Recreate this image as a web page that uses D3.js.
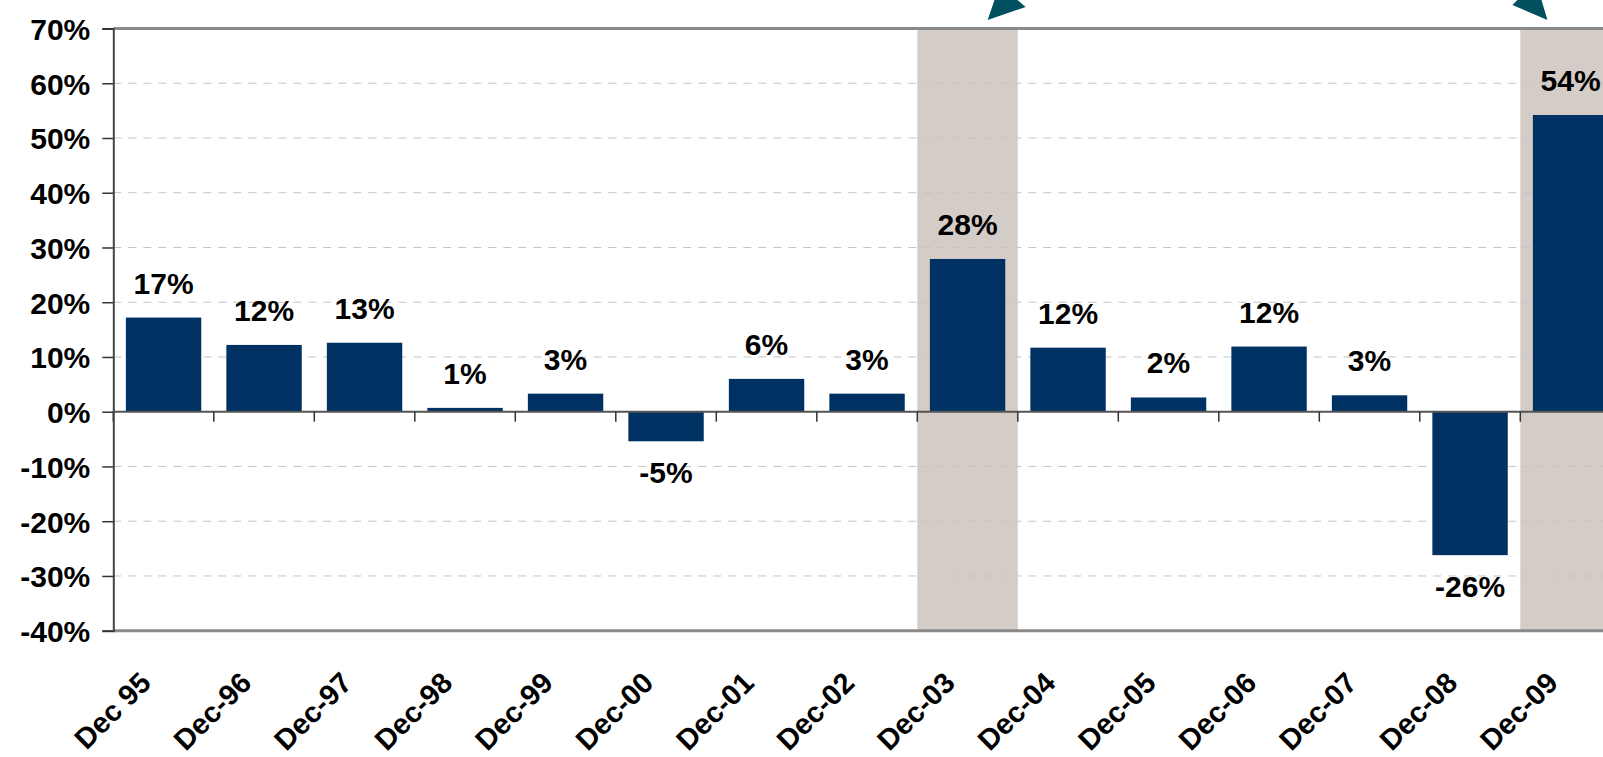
<!DOCTYPE html>
<html>
<head>
<meta charset="utf-8">
<script src="https://d3js.org/d3.v7.min.js"></script>
<style>
  body { margin: 0; background: #fff; }
  svg { display: block; overflow: hidden; }
  text { font-family: "Liberation Sans", Arial, sans-serif; font-weight: bold; fill: #000; }
</style>
</head>
<body>
<div id="chart"></div>
<script>
// data
var categories = ["Dec 95", "Dec-96", "Dec-97", "Dec-98", "Dec-99", "Dec-00", "Dec-01", "Dec-02",
                  "Dec-03", "Dec-04", "Dec-05", "Dec-06", "Dec-07", "Dec-08", "Dec-09"];
var values = [17.2, 12.2, 12.6, 0.7, 3.3, -5.4, 6.0, 3.3, 27.9, 11.7, 2.6, 11.9, 3.0, -26.2, 54.2];
var valueLabels = ["17%", "12%", "13%", "1%", "3%", "-5%", "6%", "3%", "28%", "12%", "2%", "12%", "3%", "-26%", "54%"];
var highlighted = ["Dec-03", "Dec-09"];
var yTicks = [-40, -30, -20, -10, 0, 10, 20, 30, 40, 50, 60, 70];

var svgW = 1603, svgH = 757;
var plotLeft = 113.3, plotTop = 28.5, plotBottom = 630.7;
var step = 100.5;
var plotRight = plotLeft + step * categories.length;

var svg = d3.select("#chart").append("svg")
  .attr("width", svgW)
  .attr("height", svgH);

var x = d3.scaleBand()
  .domain(categories)
  .range([plotLeft, plotRight])
  .padding(0);

var y = d3.scaleLinear()
  .domain([-40, 70])
  .range([plotBottom, plotTop]);

var barW = x.bandwidth() * 0.75;

// grey bands behind highlighted years
svg.append("g").selectAll("rect").data(highlighted).enter().append("rect")
  .attr("x", function(d) { return x(d); })
  .attr("y", y(70))
  .attr("width", x.bandwidth())
  .attr("height", y(-40) - y(70))
  .attr("fill", "#d3ccc7");

// dashed grid
svg.append("g").selectAll("line")
  .data(yTicks.filter(function(d) { return d != 0 && d != 70 && d != -40; }))
  .enter().append("line")
  .attr("x1", plotLeft).attr("x2", plotRight)
  .attr("y1", function(d) { return y(d); })
  .attr("y2", function(d) { return y(d); })
  .attr("stroke", "#c4c4c4")
  .attr("stroke-width", 1)
  .attr("stroke-dasharray", "8,7");

// top and bottom frame lines
svg.append("line").attr("x1", plotLeft).attr("x2", plotRight).attr("y1", y(70)).attr("y2", y(70))
  .attr("stroke", "#8a8a8a").attr("stroke-width", 3);
svg.append("line").attr("x1", plotLeft).attr("x2", plotRight).attr("y1", y(-40)).attr("y2", y(-40))
  .attr("stroke", "#8a8a8a").attr("stroke-width", 3);

// bars
svg.append("g").selectAll("rect").data(values).enter().append("rect")
  .attr("x", function(d, i) { return x(categories[i]) + (x.bandwidth() - barW) / 2; })
  .attr("y", function(d) { return y(Math.max(0, d)); })
  .attr("width", barW)
  .attr("height", function(d) { return Math.abs(y(d) - y(0)); })
  .attr("fill", "#003163");

// zero line with category ticks
svg.append("line").attr("x1", plotLeft).attr("x2", plotRight).attr("y1", y(0)).attr("y2", y(0))
  .attr("stroke", "#555").attr("stroke-width", 2);
svg.append("g").selectAll("line").data(categories).enter().append("line")
  .attr("x1", function(d) { return x(d); })
  .attr("x2", function(d) { return x(d); })
  .attr("y1", y(0)).attr("y2", y(0) + 10)
  .attr("stroke", "#333").attr("stroke-width", 1.5);

// y axis
var yAxis = d3.axisLeft(y)
  .tickValues(yTicks)
  .tickFormat(function(d) { return d + "%"; })
  .tickSize(11)
  .tickPadding(12);

var gy = svg.append("g")
  .attr("transform", "translate(" + plotLeft + ",0)")
  .call(yAxis);
gy.select(".domain").attr("stroke", "#444").attr("stroke-width", 2);
gy.selectAll(".tick line").attr("stroke", "#333").attr("stroke-width", 1.5);
gy.selectAll(".tick text")
  .attr("font-size", "30px")
  .attr("font-family", "Liberation Sans, Arial, sans-serif")
  .attr("font-weight", "bold")
  .attr("fill", "#000")
  .attr("dy", "0.36em");

// value labels
svg.append("g").selectAll("text").data(values).enter().append("text")
  .attr("x", function(d, i) { return x(categories[i]) + x.bandwidth() / 2; })
  .attr("y", function(d) { return d >= 0 ? y(d) - 24 : y(d) + 42; })
  .attr("text-anchor", "middle")
  .attr("font-size", "30px")
  .text(function(d, i) { return valueLabels[i]; });

// rotated category labels
svg.append("g").selectAll("text").data(categories).enter().append("text")
  .attr("transform", function(d) {
    return "translate(" + (x(d) + x.bandwidth() / 2 - 11) + "," + (plotBottom + 54) + ") rotate(-45)";
  })
  .attr("text-anchor", "end")
  .attr("font-size", "29px")
  .text(function(d) { return d; });

// arrowheads coming down from above (annotations)
var arrows = [
  { cat: "Dec-03", at: 0.70, pts: [[0, 0], [38, -13], [12, -35]] },
  { cat: "Dec-09", at: 0.27, pts: [[0, 0], [-35, -15], [-11.5, -38.5]] }
];
svg.append("g").selectAll("polygon").data(arrows).enter().append("polygon")
  .attr("points", function(a) {
    var tx = x(a.cat) + x.bandwidth() * a.at, ty = y(70) - 8.5;
    return a.pts.map(function(p) { return (tx + p[0]) + "," + (ty + p[1]); }).join(" ");
  })
  .attr("fill", "#00505f");
</script>
</body>
</html>
